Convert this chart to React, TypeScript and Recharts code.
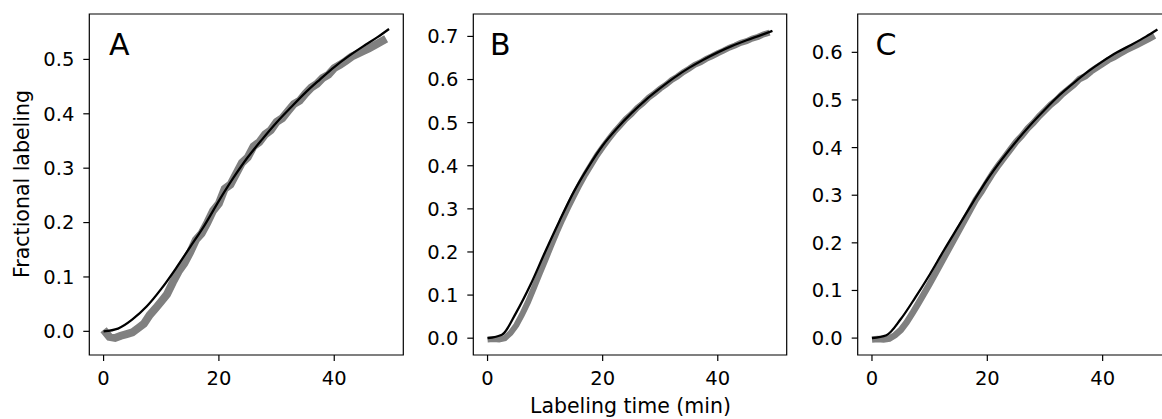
import React from "react";
import { LineChart, Line, XAxis, YAxis, ReferenceArea } from "recharts";

// measured labeling data, one point per minute
const timeMin = [
  0, 1, 2, 3, 4, 5, 6, 7, 8, 9, 10, 11, 12, 13, 14, 15, 16, 17, 18, 19, 20, 21, 22, 23, 24,
  25, 26, 27, 28, 29, 30, 31, 32, 33, 34, 35, 36, 37, 38, 39, 40, 41, 42, 43, 44, 45, 46, 47, 48, 49,
];

const measuredA = [
  0.003, -0.01, -0.012, -0.008, -0.005, -0.002, 0.006, 0.014, 0.03, 0.042, 0.055, 0.068, 0.09, 0.11, 0.125,
  0.145, 0.168, 0.18, 0.2, 0.222, 0.235, 0.262, 0.27, 0.29, 0.31, 0.32, 0.34, 0.348, 0.362, 0.37,
  0.385, 0.392, 0.405, 0.418, 0.424, 0.437, 0.448, 0.455, 0.466, 0.472, 0.484, 0.49, 0.497, 0.505, 0.51,
  0.515, 0.52, 0.526, 0.532, 0.538,
];

const measuredB = [
  -0.003, -0.002, -0.003, 0.0, 0.012, 0.03, 0.055, 0.083, 0.115, 0.148, 0.18, 0.213, 0.245, 0.275, 0.303,
  0.33, 0.356, 0.38, 0.402, 0.424, 0.443, 0.461, 0.478, 0.493, 0.508, 0.52, 0.534, 0.545, 0.558, 0.568,
  0.579, 0.588, 0.599, 0.607, 0.617, 0.625, 0.634, 0.64, 0.648, 0.654, 0.661, 0.667, 0.674, 0.679, 0.685,
  0.689, 0.695, 0.699, 0.705, 0.709,
];

const measuredC = [
  -0.003, -0.002, -0.003, -0.001, 0.006, 0.017, 0.033, 0.052, 0.072, 0.093, 0.114, 0.136, 0.158, 0.18, 0.202,
  0.224, 0.246, 0.268, 0.29, 0.308, 0.328, 0.347, 0.364, 0.38, 0.396, 0.412, 0.425, 0.44, 0.452, 0.466,
  0.478, 0.49, 0.5, 0.512, 0.522, 0.532, 0.544, 0.55, 0.56, 0.568, 0.576, 0.584, 0.59, 0.597, 0.604,
  0.61, 0.616, 0.622, 0.628, 0.635,
];

// model fit, sampled every 2.5 min
const fitTime = [0, 2.5, 5, 7.5, 10, 12.5, 15, 17.5, 20, 22.5, 25, 27.5, 30, 32.5, 35, 37.5, 40, 42.5, 45, 47.5, 49.5];
const fitA = [0, 0.005, 0.022, 0.046, 0.078, 0.115, 0.155, 0.195, 0.24, 0.282, 0.32, 0.353, 0.384, 0.412, 0.439, 0.463, 0.486, 0.506, 0.524, 0.541, 0.556];
const fitB = [0, 0.008, 0.06, 0.125, 0.2, 0.272, 0.34, 0.397, 0.447, 0.487, 0.522, 0.553, 0.58, 0.605, 0.627, 0.646, 0.663, 0.678, 0.691, 0.703, 0.713];
const fitC = [0, 0.006, 0.04, 0.085, 0.133, 0.185, 0.235, 0.285, 0.333, 0.375, 0.413, 0.448, 0.48, 0.51, 0.536, 0.56, 0.581, 0.6, 0.616, 0.633, 0.648];

const xTicks = [0, 20, 40];
const yTicksA = [0, 0.1, 0.2, 0.3, 0.4, 0.5];
const yTicksB = [0, 0.1, 0.2, 0.3, 0.4, 0.5, 0.6, 0.7];
const yTicksC = [0, 0.1, 0.2, 0.3, 0.4, 0.5, 0.6];

const font = "DejaVu Sans";
const tickStyle = { fontFamily: font, fontSize: 19.5, fill: "#000" };
const xDomain: [number, number] = [-2.475, 51.975];

const toPoints = (xs: number[], ys: number[]) => xs.map((t, i) => ({ t, y: ys[i] }));

interface PanelProps {
  left: number;
  width: number;
  axisWidth: number;
  marginRight: number;
  yDomain: [number, number];
  yTicks: number[];
  measured: number[];
  fit: number[];
  band: number;
}

const Panel = ({ left, width, axisWidth, marginRight, yDomain, yTicks, measured, fit, band }: PanelProps) => (
  <div style={{ position: "absolute", left, top: 0 }}>
    <LineChart width={width} height={419} margin={{ top: 14, right: marginRight, bottom: 34, left: 0 }}>
      <XAxis
        type="number"
        dataKey="t"
        domain={xDomain}
        ticks={xTicks}
        allowDataOverflow
        height={30}
        tickSize={6}
        tickMargin={10}
        tick={tickStyle}
        axisLine={false}
        tickLine={{ stroke: "#000", strokeWidth: 1.2 }}
      />
      <YAxis
        type="number"
        dataKey="y"
        domain={yDomain}
        ticks={yTicks}
        allowDataOverflow
        width={axisWidth}
        tickSize={6}
        tickMargin={9}
        tick={tickStyle}
        tickFormatter={(v: number) => v.toFixed(1)}
        axisLine={false}
        tickLine={{ stroke: "#000", strokeWidth: 1.2 }}
      />
      <Line
        data={toPoints(timeMin, measured)}
        dataKey="y"
        type="linear"
        stroke="#808080"
        strokeWidth={band}
        dot={false}
        isAnimationActive={false}
      />
      <Line
        data={toPoints(fitTime, fit)}
        dataKey="y"
        type="monotone"
        stroke="#000"
        strokeWidth={2.3}
        dot={false}
        isAnimationActive={false}
      />
      <ReferenceArea
        x1={xDomain[0]}
        x2={xDomain[1]}
        y1={yDomain[0]}
        y2={yDomain[1]}
        fill="none"
        fillOpacity={0}
        stroke="#000"
        strokeWidth={1.2}
      />
    </LineChart>
  </div>
);

export default function App() {
  return (
    <div style={{ position: "absolute", left: 0, top: 0, width: 1162, height: 419, overflow: "hidden", background: "#fff" }}>
      <Panel left={0} width={420} axisWidth={89.3} marginRight={16.7} yDomain={[-0.0435, 0.5835]} yTicks={yTicksA} measured={measuredA} fit={fitA} band={8} />
      <Panel left={390} width={410} axisWidth={83.3} marginRight={13.3} yDomain={[-0.039, 0.752]} yTicks={yTicksB} measured={measuredB} fit={fitB} band={6} />
      <Panel left={770} width={420} axisWidth={87.7} marginRight={18.3} yDomain={[-0.0355, 0.6805]} yTicks={yTicksC} measured={measuredC} fit={fitC} band={6.5} />
      <svg width={1162} height={419} style={{ position: "absolute", left: 0, top: 0, pointerEvents: "none" }}>
        <g fontFamily={font} fill="#000">
          <text x={109} y={55} fontSize={30}>A</text>
          <text x={490} y={55} fontSize={30}>B</text>
          <text x={875.5} y={55} fontSize={30}>C</text>
          <text x={28.5} y={184} fontSize={20.5} textAnchor="middle" transform="rotate(-90 28.5 184)">Fractional labeling</text>
          <text x={630.5} y={413} fontSize={20.5} textAnchor="middle">Labeling time (min)</text>
        </g>
      </svg>
    </div>
  );
}
